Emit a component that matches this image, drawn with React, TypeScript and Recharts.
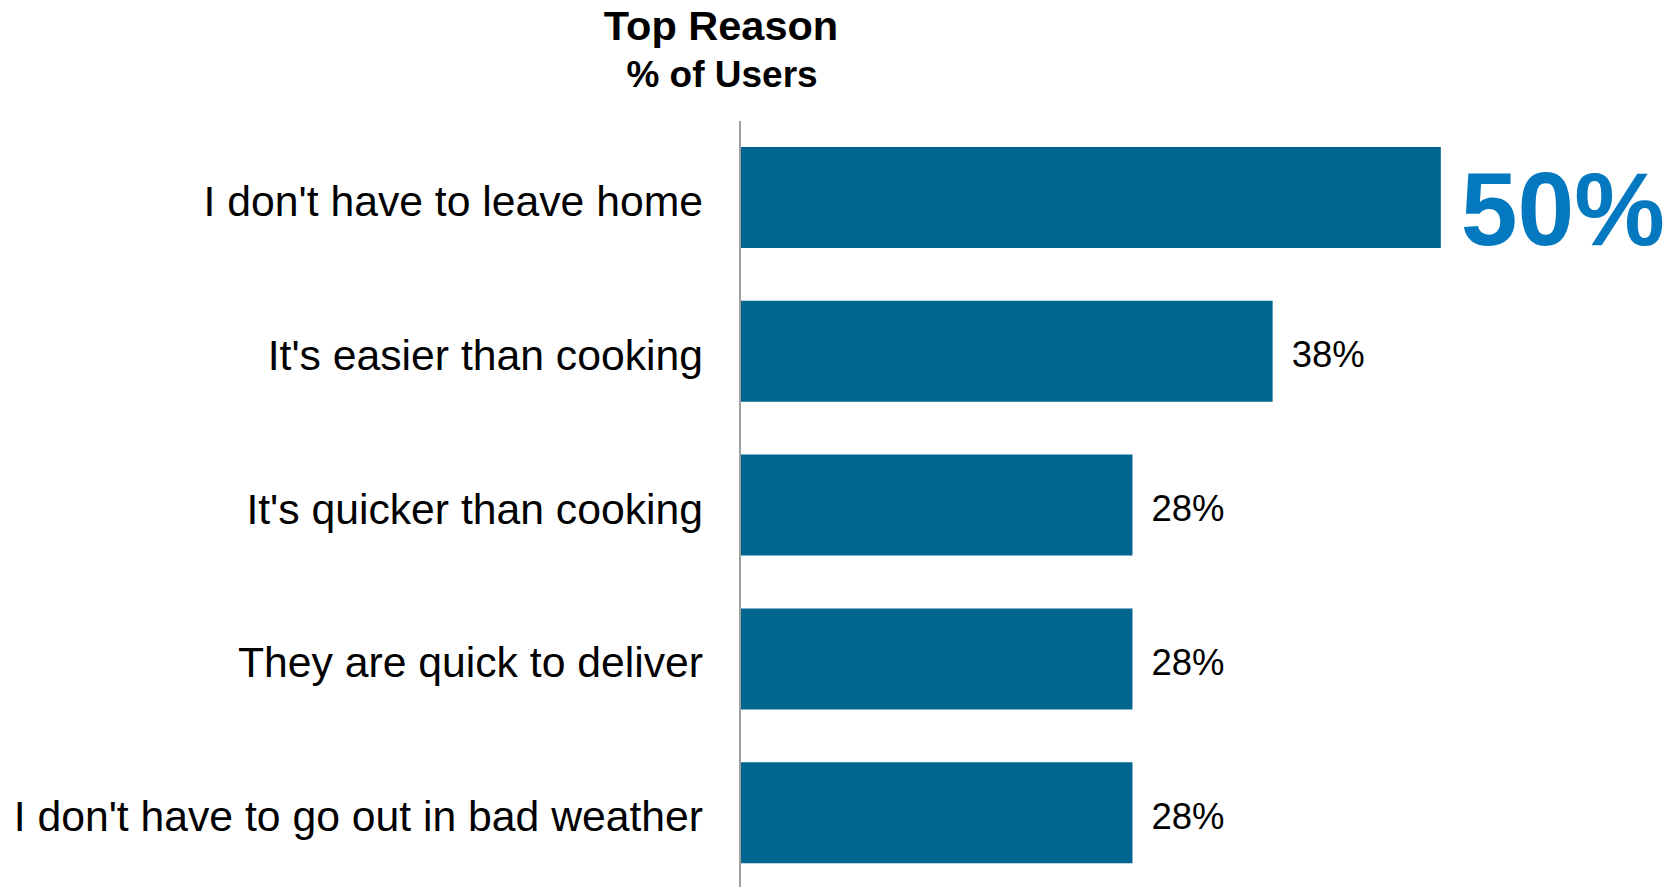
import React from 'react';
import { BarChart, Bar, XAxis, YAxis, LabelList } from 'recharts';

// Reasons for ordering delivery, top to bottom
const reasons = [
  "I don't have to leave home",
  "It's easier than cooking",
  "It's quicker than cooking",
  'They are quick to deliver',
  "I don't have to go out in bad weather",
];
const shares = [50, 38, 28, 28, 28];

const titleLines = ['Top Reason', '% of Users'];

const FONT = '"Liberation Sans", Arial, sans-serif';
const BAR_COLOR = '#00658f';
const HIGHLIGHT_COLOR = '#0479c0';

const data = reasons.map((reason, i) => ({ reason, share: shares[i] }));
const topShare = Math.max(...shares);

// Category label, right-aligned left of the axis
const ReasonTick = (props: any) => {
  const { x, y, payload } = props;
  return (
    <text x={x - 29} y={y} dy={18} textAnchor="end" fontSize={42.7} fill="#000" fontFamily={FONT}>
      {payload.value}
    </text>
  );
};

// Value label: top reason gets the big blue callout
const ShareLabel = (props: any) => {
  const { x, y, width, height, value } = props;
  const cy = y + height / 2;
  if (value === topShare) {
    return (
      <text
        x={x + width + 20}
        y={cy + 47}
        fontSize={104}
        fontWeight="bold"
        fill={HIGHLIGHT_COLOR}
        fontFamily={FONT}
        textLength={204}
        lengthAdjust="spacingAndGlyphs"
      >
        {`${value}%`}
      </text>
    );
  }
  return (
    <text x={x + width + 19} y={cy + 16} fontSize={36.5} fill="#000" fontFamily={FONT}>
      {`${value}%`}
    </text>
  );
};

export default function App() {
  return (
    <div style={{ position: 'absolute', left: 0, top: 0, width: 1677, height: 887, overflow: 'hidden', background: '#fff' }}>
      <BarChart
        width={1677}
        height={890}
        data={data}
        layout="vertical"
        margin={{ top: 121, right: 96, bottom: 0, left: 0 }}
      >
        <XAxis type="number" domain={[0, 60]} hide />
        <YAxis
          type="category"
          dataKey="reason"
          width={740}
          tickLine={false}
          axisLine={{ stroke: '#a0a0a0', strokeWidth: 2 }}
          tick={<ReasonTick />}
          interval={0}
        />
        <Bar dataKey="share" fill={BAR_COLOR} barSize={101} isAnimationActive={false}>
          <LabelList dataKey="share" content={<ShareLabel />} />
        </Bar>
      </BarChart>
      <svg
        width={1677}
        height={110}
        style={{ position: 'absolute', left: 0, top: 0, pointerEvents: 'none' }}
      >
        <text x={721} y={40} textAnchor="middle" fontSize={41.5} fontWeight="bold" fontFamily={FONT}>
          {titleLines[0]}
        </text>
        <text x={722} y={87} textAnchor="middle" fontSize={37} fontWeight="bold" fontFamily={FONT}>
          {titleLines[1]}
        </text>
      </svg>
    </div>
  );
}
